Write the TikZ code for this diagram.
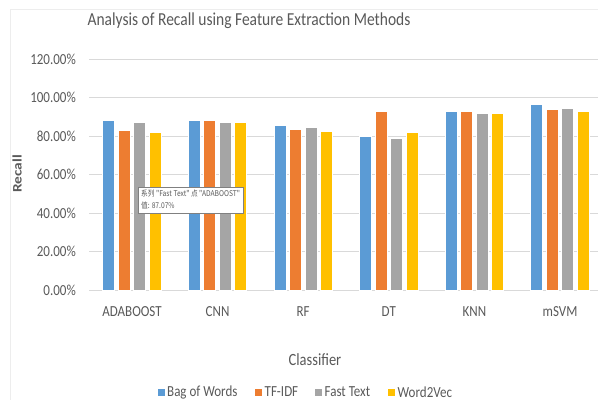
\documentclass[tikz,border=0pt]{standalone}
\usepackage{fontspec}
\setmainfont{Carlito}
\newfontfamily\cjkfont{Noto Sans CJK SC}
\usetikzlibrary{shadows}

\definecolor{bowblue}{HTML}{5B9BD5}
\definecolor{tfidforange}{HTML}{ED7D31}
\definecolor{fastgray}{HTML}{A5A5A5}
\definecolor{wvyellow}{HTML}{FFC000}
\definecolor{labelgray}{HTML}{595959}
\definecolor{gridgray}{HTML}{D9D9D9}
\definecolor{framegray}{HTML}{EDEDED}

\newcommand{\tall}[1]{\scalebox{1}[1.18]{#1}}

\tikzset{
  ticklabel/.style={anchor=east, text=labelgray, inner sep=0pt, font=\fontsize{13}{15}\selectfont},
  catlabel/.style={text=labelgray, inner sep=0pt, font=\fontsize{13}{15}\selectfont},
  bar/.style={draw=white, line width=0.4pt},
  legendkey/.style={minimum size=7pt, inner sep=0pt},
  legendtext/.style={anchor=west, text=labelgray, inner sep=0pt, font=\fontsize{13}{15}\selectfont},
  tiptext/.style={anchor=west, text=labelgray, inner sep=0pt, font=\cjkfont\fontsize{6.7}{8}\selectfont}
}

\begin{document}
\begin{tikzpicture}[x=1pt,y=-1pt]

\useasboundingbox (0,0) rectangle (598,400);
\draw[color=framegray] (10,400) -- (10,9) -- (598,9);

% grid and y ticks
\foreach \v in {0,20,...,120} {
  \draw[color=gridgray, line width=0.8pt] (89,{290-1.925*\v}) -- (598,{290-1.925*\v});
  \node[ticklabel] (tick\v) at (76,{290-1.925*\v}) {\tall{\v.00\%}};
}

% bars
\foreach \cat/\bow/\tf/\ft/\wv [count=\i from 0] in
  {ADABOOST/88.1/83.2/87.07/82.0, CNN/88.4/88.0/87.3/87.0, RF/85.6/83.5/84.4/82.3,
   DT/80.0/92.7/78.9/81.8, KNN/93.0/93.0/92.0/92.0, mSVM/96.3/93.9/94.7/93.0} {
  \pgfmathsetmacro{\cx}{132+85.6*\i}
  \fill[bar, fill=bowblue] ({\cx-29.5},290) rectangle ({\cx-17.5},{290-1.925*\bow});
  \fill[bar, fill=tfidforange] ({\cx-14},290) rectangle ({\cx-2},{290-1.925*\tf});
  \fill[bar, fill=fastgray] ({\cx+1.5},290) rectangle ({\cx+13.5},{290-1.925*\ft});
  \fill[bar, fill=wvyellow] ({\cx+17},290) rectangle ({\cx+29},{290-1.925*\wv});
  \node[catlabel] (cat\i) at (\cx,312) {\tall{\cat}};
}

% title and axis names
\node[text=labelgray, font=\fontsize{15.5}{18}\selectfont] (title) at (249,21) {\tall{Analysis of Recall using Feature Extraction Methods}};
\node[text=labelgray, rotate=90, font=\bfseries\fontsize{13}{15}\selectfont] (ylab) at (17,174) {\scalebox{1.18}[1]{Recall}};
\node[text=labelgray, font=\fontsize{14.5}{17}\selectfont] (xlab) at (315,360) {\tall{Classifier}};

% legend
\node[legendkey, fill=bowblue] (keybow) at (161,392) {};
\node[legendtext] (txtbow) at (167,392) {\tall{Bag of Words}};
\node[legendkey, fill=tfidforange] (keytf) at (258.5,392) {};
\node[legendtext] (txttf) at (264.5,392) {\tall{TF-IDF}};
\node[legendkey, fill=fastgray] (keyft) at (318.5,392) {};
\node[legendtext] (txtft) at (324.5,392) {\tall{Fast Text}};
\node[legendkey, fill=wvyellow] (keywv) at (391.5,392) {};
\node[legendtext] (txtwv) at (397.5,392) {\tall{Word2Vec}};

% tooltip
\node[draw=gray, fill=white, anchor=north west, minimum width=105pt, minimum height=26pt, inner sep=0pt,
      drop shadow={opacity=0.15, shadow xshift=1pt, shadow yshift=-1pt}] (tip) at (138,187) {};
\node[tiptext] (tipline1) at ([xshift=3pt,yshift=6.5pt]tip.west) {\tall{系列 "Fast Text" 点 "ADABOOST"}};
\node[tiptext] (tipline2) at ([xshift=3pt,yshift=-5.5pt]tip.west) {\tall{值: 87.07\%}};

\end{tikzpicture}
\end{document}
